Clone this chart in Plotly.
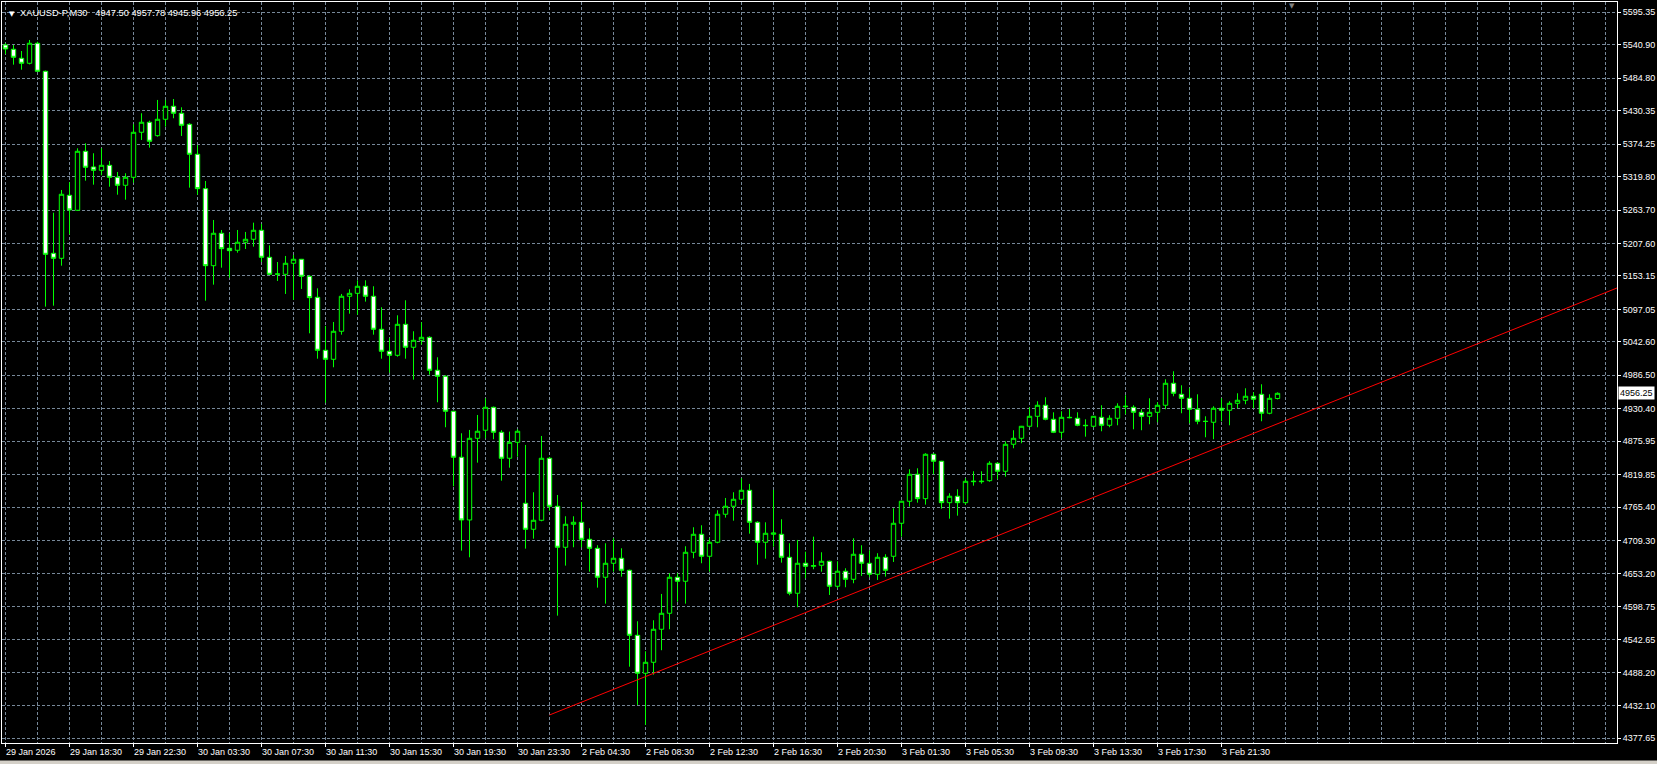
import plotly.graph_objects as go

# ---------------- data ----------------
bar_index = list(range(160))

opens = [5540.5, 5533.3, 5518.2, 5509.8, 5543.4, 5496.4, 5191.1, 5182.7, 5288.4, 5263.3,
         5362.2, 5335.9, 5330.3, 5338.7, 5318.6, 5305.2, 5318.6, 5394.1, 5410.9, 5388.4,
         5415.9, 5437.7, 5426.0, 5407.5, 5357.2, 5299.5, 5170.3, 5224.7, 5199.5, 5196.2,
         5209.6, 5214.6, 5229.7, 5184.4, 5155.9, 5155.9, 5174.4, 5181.1, 5152.6, 5117.3,
         5028.4, 5013.3, 5060.3, 5119.0, 5124.0, 5135.8, 5119.0, 5063.7, 5026.8, 5020.0,
         5072.0, 5033.5, 5045.2, 5050.2, 4994.9, 4984.8, 4926.1, 4849.0, 4743.8, 4880.8,
         4894.3, 4932.8, 4890.9, 4847.3, 4874.1, 4771.8, 4728.2, 4743.3, 4847.3, 4766.8,
         4698.0, 4736.6, 4739.9, 4711.4, 4696.3, 4647.7, 4671.2, 4679.6, 4659.4, 4550.4,
         4486.7, 4505.1, 4560.5, 4587.3, 4647.7, 4641.0, 4689.6, 4719.8, 4682.9, 4706.4,
         4753.4, 4766.8, 4778.5, 4793.6, 4739.9, 4706.4, 4719.8, 4719.8, 4681.2, 4620.9,
         4671.2, 4666.1, 4667.8, 4674.5, 4632.6, 4657.8, 4644.3, 4686.3, 4671.2, 4652.7,
         4681.2, 4682.9, 4738.3, 4775.2, 4820.5, 4779.5, 4854.0, 4842.3, 4772.8, 4783.6,
         4772.8, 4808.0, 4808.0, 4809.7, 4838.9, 4825.5, 4870.8, 4880.8, 4901.0, 4917.7,
         4936.2, 4912.7, 4890.9, 4916.0, 4914.4, 4902.6, 4901.0, 4916.0, 4902.6, 4914.4,
         4933.8, 4932.8, 4924.4, 4917.7, 4924.4, 4936.2, 4973.1, 4954.6, 4947.9, 4929.5,
         4909.4, 4907.7, 4931.2, 4927.8, 4939.5, 4944.6, 4951.3, 4954.6, 4922.8, 4947.50]

highs = [5543.4, 5540.5, 5530.4, 5548.9, 5546.0, 5497.5, 5259.2, 5297.3, 5310.2, 5367.2,
         5375.6, 5358.9, 5367.2, 5345.9, 5327.5, 5325.3, 5407.5, 5426.0, 5413.5, 5448.3,
         5448.3, 5449.9, 5436.0, 5409.2, 5372.8, 5312.4, 5247.0, 5230.2, 5224.7, 5230.2,
         5226.9, 5242.5, 5240.3, 5204.5, 5176.5, 5186.6, 5188.3, 5181.6, 5154.7, 5132.4,
         5069.2, 5075.9, 5122.9, 5130.7, 5145.8, 5145.8, 5135.8, 5100.6, 5048.6, 5087.1,
         5112.3, 5060.3, 5075.4, 5051.9, 5016.7, 4986.5, 4927.0, 4889.2, 4894.8, 4919.9,
         4947.9, 4934.0, 4894.3, 4892.0, 4895.9, 4869.6, 4790.3, 4884.7, 4849.5, 4785.7,
         4750.0, 4750.0, 4774.0, 4729.9, 4701.4, 4704.7, 4713.1, 4696.3, 4660.5, 4573.9,
         4523.6, 4575.6, 4619.7, 4654.4, 4654.4, 4699.7, 4731.6, 4734.9, 4713.1, 4760.1,
         4780.7, 4790.3, 4813.7, 4804.2, 4741.6, 4739.9, 4794.1, 4745.0, 4704.7, 4710.3,
         4690.6, 4715.8, 4689.6, 4675.5, 4674.5, 4662.8, 4713.1, 4701.4, 4693.0, 4688.0,
         4686.3, 4763.4, 4776.0, 4828.8, 4830.5, 4855.7, 4855.0, 4843.0, 4788.6, 4795.3,
         4813.7, 4825.5, 4825.5, 4842.3, 4840.6, 4875.8, 4894.3, 4901.5, 4932.8, 4942.9,
         4949.6, 4924.4, 4926.1, 4930.0, 4924.4, 4912.7, 4917.7, 4936.2, 4919.4, 4939.5,
         4953.0, 4936.2, 4929.5, 4947.9, 4941.2, 4979.8, 4993.2, 4969.7, 4964.7, 4954.6,
         4917.7, 4934.5, 4947.9, 4942.9, 4956.3, 4964.7, 4958.0, 4971.4, 4954.6, 4957.78]

lows = [5525.4, 5507.5, 5499.1, 5508.0, 5495.7, 5101.6, 5103.2, 5170.3, 5223.0, 5262.0,
        5312.9, 5306.2, 5322.0, 5302.8, 5289.4, 5281.0, 5309.5, 5381.2, 5368.3, 5386.7,
        5403.5, 5417.6, 5387.9, 5301.2, 5289.4, 5111.6, 5138.5, 5167.0, 5150.2, 5192.1,
        5198.3, 5202.2, 5176.5, 5155.2, 5144.7, 5122.9, 5112.8, 5131.3, 5056.9, 5014.3,
        4940.5, 4999.9, 5054.6, 5089.8, 5088.1, 5110.0, 5054.6, 5014.3, 4990.9, 5017.7,
        5014.3, 4979.1, 5037.8, 4987.5, 4941.2, 4899.3, 4800.3, 4692.3, 4681.2, 4839.9,
        4880.8, 4879.2, 4809.7, 4831.5, 4850.0, 4695.7, 4712.4, 4741.6, 4759.4, 4583.3,
        4667.2, 4698.0, 4698.0, 4657.1, 4630.3, 4603.4, 4657.1, 4648.7, 4497.7, 4433.5,
        4400.0, 4484.3, 4525.3, 4560.5, 4606.8, 4603.4, 4679.6, 4671.2, 4657.1, 4704.7,
        4747.7, 4742.6, 4770.1, 4720.8, 4668.8, 4678.9, 4699.0, 4672.2, 4617.5, 4597.4,
        4646.0, 4661.1, 4657.1, 4618.0, 4629.2, 4630.9, 4637.6, 4649.9, 4647.7, 4643.2,
        4648.7, 4673.4, 4715.8, 4766.1, 4772.8, 4769.5, 4820.5, 4762.8, 4746.0, 4751.0,
        4769.5, 4801.3, 4804.7, 4808.0, 4812.1, 4816.4, 4864.1, 4872.5, 4899.3, 4899.3,
        4911.0, 4889.5, 4880.8, 4914.4, 4901.0, 4883.5, 4899.3, 4892.6, 4899.3, 4902.6,
        4921.1, 4895.9, 4894.3, 4904.3, 4907.7, 4929.5, 4951.3, 4922.8, 4906.0, 4904.3,
        4882.5, 4879.2, 4909.4, 4902.6, 4931.2, 4937.9, 4931.2, 4909.4, 4921.1, 4945.96]

closes = [5533.8, 5519.9, 5509.8, 5543.4, 5496.4, 5189.4, 5182.7, 5290.1, 5263.8, 5362.2,
          5335.4, 5330.3, 5338.7, 5318.6, 5305.2, 5318.6, 5394.1, 5410.9, 5379.0, 5415.9,
          5437.7, 5426.0, 5405.8, 5357.2, 5299.5, 5170.3, 5224.7, 5198.8, 5195.5, 5209.6,
          5214.6, 5229.7, 5184.4, 5155.9, 5156.4, 5174.4, 5181.1, 5152.6, 5116.7, 5028.4,
          5013.3, 5060.3, 5119.0, 5124.0, 5135.8, 5119.0, 5063.7, 5026.8, 5020.0, 5072.0,
          5033.5, 5045.2, 5050.2, 4994.9, 4984.8, 4926.1, 4849.0, 4743.8, 4880.8, 4892.6,
          4932.8, 4890.9, 4847.3, 4874.1, 4892.6, 4728.2, 4743.3, 4847.3, 4766.8, 4698.0,
          4736.6, 4739.9, 4711.4, 4696.3, 4647.7, 4671.2, 4679.6, 4659.4, 4550.4, 4486.7,
          4505.1, 4560.5, 4587.3, 4647.7, 4641.0, 4689.6, 4719.8, 4682.9, 4706.4, 4753.4,
          4766.8, 4778.5, 4793.6, 4739.9, 4706.4, 4721.5, 4722.0, 4681.2, 4620.9, 4671.2,
          4666.1, 4667.2, 4674.5, 4632.6, 4657.8, 4644.3, 4686.3, 4671.2, 4652.7, 4681.2,
          4659.4, 4738.3, 4775.2, 4820.5, 4779.5, 4854.0, 4842.3, 4772.8, 4783.6, 4772.8,
          4808.7, 4808.7, 4808.7, 4838.9, 4825.5, 4870.8, 4880.8, 4901.0, 4917.7, 4936.2,
          4912.7, 4890.9, 4916.0, 4915.4, 4902.6, 4902.0, 4917.7, 4902.6, 4914.4, 4934.5,
          4934.5, 4924.4, 4917.7, 4924.4, 4936.2, 4973.1, 4956.3, 4947.9, 4929.5, 4909.4,
          4909.0, 4931.2, 4927.8, 4939.5, 4944.6, 4951.3, 4946.3, 4922.8, 4947.9, 4956.25]

price_ticks = [4377.65, 4432.10, 4488.20, 4542.65, 4598.75, 4653.20, 4709.30, 4765.40,
               4819.85, 4875.95, 4930.40, 4986.50, 5042.60, 5097.05, 5153.15, 5207.60,
               5263.70, 5319.80, 5374.25, 5430.35, 5484.80, 5540.90, 5595.35]
price_tick_text = ["4377.65", "4432.10", "4488.20", "4542.65", "4598.75", "4653.20",
                   "4709.30", "4765.40", "4819.85", "4875.95", "4930.40", "4986.50",
                   "5042.60", "5097.05", "5153.15", "5207.60", "5263.70", "5319.80",
                   "5374.25", "5430.35", "5484.80", "5540.90", "5595.35"]

time_tick_index = [0, 8, 16, 24, 32, 40, 48, 56, 64, 72, 80, 88, 96, 104, 112, 120, 128, 136, 144, 152]
time_tick_text = ["29 Jan 2026", "29 Jan 18:30", "29 Jan 22:30", "30 Jan 03:30", "30 Jan 07:30",
                  "30 Jan 11:30", "30 Jan 15:30", "30 Jan 19:30", "30 Jan 23:30", "2 Feb 04:30",
                  "2 Feb 08:30", "2 Feb 12:30", "2 Feb 16:30", "2 Feb 20:30", "3 Feb 01:30",
                  "3 Feb 05:30", "3 Feb 09:30", "3 Feb 13:30", "3 Feb 17:30", "3 Feb 21:30"]

last_price = 4956.25
last_price_text = "4956.25"
header_text = "XAUUSD-P,M30\u00a0\u00a0 4947.50 4957.78 4945.96 4956.25"

trend_x = [68, 201.4375]
trend_y = [4416.7, 5132.9]

x_range = [-0.4375, 201.4375]
y_range = [4369.7, 5612.6]

# ---------------- styles ----------------
GRID = "#778899"
FONT = "Liberation Sans"

fig = go.Figure()

fig.add_trace(go.Candlestick(
    x=bar_index, open=opens, high=highs, low=lows, close=closes,
    increasing=dict(line=dict(color="#00ff00", width=1), fillcolor="#000000"),
    decreasing=dict(line=dict(color="#00ff00", width=1), fillcolor="#ffffff"),
    whiskerwidth=0, hoverinfo="skip", showlegend=False,
))

# trend line on the overlay axis (same range as main x axis); this axis carries the label ticks
fig.add_trace(go.Scatter(
    x=trend_x, y=trend_y, mode="lines", xaxis="x2", yaxis="y",
    line=dict(color="#ff0000", width=1), hoverinfo="skip", showlegend=False,
))

fig.add_hline(y=last_price, line=dict(color="#8a9bb0", width=1))

annotations = []
for idx, txt in zip(time_tick_index, time_tick_text):
    annotations.append(dict(
        x=idx, xref="x", y=0, yref="paper", yanchor="top", xanchor="left",
        text=txt, showarrow=False, xshift=-2, yshift=-2,
        font=dict(family=FONT, size=9, color="#ffffff"),
    ))

annotations.append(dict(
    x=1, xref="paper", y=last_price, yref="y", xanchor="left", yanchor="middle",
    text=last_price_text, showarrow=False, bgcolor="#ffffff",
    font=dict(family=FONT, size=9, color="#000000"), borderpad=1, xshift=1,
))

annotations.append(dict(
    x=0, xref="paper", y=1, yref="paper", xanchor="left", yanchor="top",
    text="▼", showarrow=False, xshift=5, yshift=-6,
    font=dict(family="DejaVu Sans", size=7, color="#ffffff"),
))
annotations.append(dict(
    x=0, xref="paper", y=1, yref="paper", xanchor="left", yanchor="top",
    text=header_text, showarrow=False, xshift=16, yshift=-4,
    font=dict(family=FONT, size=9.3, color="#ffffff"),
))
annotations.append(dict(
    x=0.7988, xref="paper", y=1, yref="paper", xanchor="center", yanchor="top",
    text="▼", showarrow=False, yshift=2,
    font=dict(family="DejaVu Sans", size=7, color="#808080"),
))

fig.update_layout(
    width=1657, height=764,
    margin=dict(l=2, r=40, t=2, b=21),
    paper_bgcolor="#000000", plot_bgcolor="#000000",
    boxgap=0.45, boxgroupgap=0,
    annotations=annotations,
    showlegend=False,
    xaxis=dict(
        range=x_range, tickmode="linear", tick0=0, dtick=4,
        showticklabels=False, ticks="",
        showgrid=True, gridcolor=GRID, gridwidth=1, griddash="3px,2px",
        zeroline=False, showline=True, linecolor="#ffffff", linewidth=1, mirror=True,
        rangeslider=dict(visible=False), fixedrange=True,
    ),
    xaxis2=dict(
        range=x_range, overlaying="x", side="bottom", anchor="y",
        tickmode="array", tickvals=time_tick_index, showticklabels=False,
        ticks="outside", ticklen=3, tickcolor="#ffffff", tickwidth=1,
        showgrid=False, zeroline=False, showline=False, fixedrange=True,
    ),
    yaxis=dict(
        range=y_range, side="right", tickmode="array",
        tickvals=price_ticks, ticktext=price_tick_text,
        ticks="outside", ticklen=3, tickcolor="#ffffff",
        tickfont=dict(family=FONT, size=9, color="#ffffff"),
        showgrid=True, gridcolor=GRID, gridwidth=1, griddash="3px,2px",
        zeroline=False, showline=True, linecolor="#ffffff", linewidth=1, mirror=True,
        fixedrange=True,
    ),
    shapes=[dict(type="rect", xref="paper", yref="paper", x0=-0.01, x1=1.03,
                 y0=-0.0284, y1=-0.0235, fillcolor="#d4d0c8", line=dict(width=0), layer="above")],
)

fig.write_html(
    "out.html",
    config={"displayModeBar": False},
    post_script="document.body.style.margin='0px';document.body.style.overflow='hidden';",
)
